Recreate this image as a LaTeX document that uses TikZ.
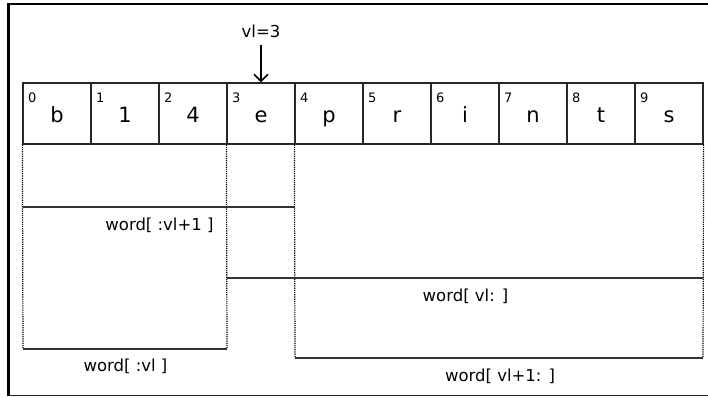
\documentclass[tikz,border=0pt]{standalone}
\usepackage{fontspec}
\setmainfont{DejaVu Sans}
\usetikzlibrary{arrows.meta}
\begin{document}
\begin{tikzpicture}[x=1pt,y=-1pt,
  cell/.style={draw=black!85, line width=1.2pt, minimum width=68pt, minimum height=61pt, inner sep=0pt},
  letter/.style={inner sep=0pt, anchor=base, font=\fontsize{21}{21}\selectfont},
  idx/.style={inner sep=0pt, anchor=base west, font=\fontsize{13}{13}\selectfont},
  lab/.style={inner sep=0pt, anchor=base, font=\fontsize{16.5}{16.5}\selectfont},
  dotl/.style={draw=black, line width=1.2pt, dash pattern=on 1.2pt off 1pt},
  bottoml/.style={draw=black!80, line width=1.2pt},
  frame/.style={draw=black, line width=2.6pt},
  ]
\useasboundingbox (0,0) rectangle (708,397);
% frame
\draw[frame] (710,4) -- (8.5,4) -- (8.5,395.5);
\draw[draw=black!85, line width=1.6pt] (8.5,395.5) -- (710,395.5);
% cells
\foreach \i/\t in {0/b,1/1,2/4,3/e,4/p,5/r,6/i,7/n,8/t,9/s}{
  \node[cell] (c\i) at ({57+68*\i},113.5) {};
  \node[letter] (l\i) at ({57+68*\i},122) {\t};
  \node[idx] (i\i) at ({28+68*\i},102.5) {\i};
}
% vl=3 and arrow
\node[lab] (vl) at (261,37) {vl=3};
\coordinate (vs) at (261,45);
\draw[line width=1.5pt, -{Straight Barb[length=7pt,width=14pt,line width=1.6pt]}] (vs) -- (c3.north);
% range coordinates
\coordinate (b1) at (23,207);  \coordinate (b2) at (295,207);
\coordinate (d1) at (23,349);  \coordinate (d2) at (227,349);
\coordinate (e1) at (227,278); \coordinate (e2) at (703,278);
\coordinate (f1) at (295,358); \coordinate (f2) at (703,358);
% dotted sides
\draw[dotl] (c0.south west) -- (d1);
\draw[dotl] (c3.south west) -- (d2);
\draw[dotl] (c4.south west) -- (f1);
\draw[dotl] (c9.south east) -- (f2);
% bottoms
\draw[bottoml] (b1) -- (b2);
\draw[bottoml] (d1) -- (d2);
\draw[bottoml] (e1) -- (e2);
\draw[bottoml] (f1) -- (f2);
% labels
\node[lab] (w1) at (159.5,230) {word[ :vl+1 ]};
\node[lab] (w2) at (125.5,371.5) {word[ :vl ]};
\node[lab] (w3) at (465.5,301) {word[ vl: ]};
\node[lab] (w4) at (500,381) {word[ vl+1: ]};
\end{tikzpicture}
\end{document}
